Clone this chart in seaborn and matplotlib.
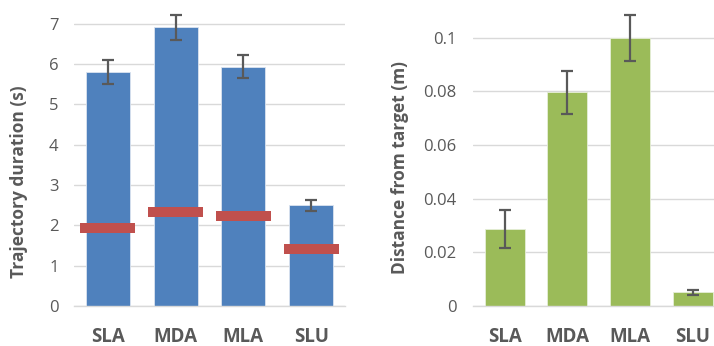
import seaborn as sns
import pandas as pd
import numpy as np
import matplotlib.pyplot as plt

# data
conditions = ["SLA", "MDA", "MLA", "SLU"]
duration = [5.80, 6.92, 5.94, 2.50]
duration_err = [0.30, 0.31, 0.28, 0.14]
duration_ref = [1.93, 2.34, 2.23, 1.41]
distance = [0.0287, 0.0796, 0.1000, 0.0051]
distance_err = [0.0071, 0.0080, 0.0085, 0.0009]

blue = "#4F81BD"
red = "#C0504D"
green = "#9BBB59"
grey = "#595959"
grid = "#D9D9D9"

sns.set_theme(style="white", rc={"axes.edgecolor": grid})
plt.rcParams["font.family"] = ["Open Sans", "DejaVu Sans"]

df = pd.DataFrame({"cond": conditions, "duration": duration, "distance": distance})

fig = plt.figure(figsize=(7.14, 3.46), dpi=100)
ax1 = fig.add_axes([0.1036, 0.1156, 0.3796, 0.8736])
ax2 = fig.add_axes([0.663, 0.1156, 0.337, 0.8685])

# left panel
sns.barplot(data=df, x="cond", y="duration", color=blue, width=0.65, saturation=1,
            edgecolor="#dbe4f0", linewidth=0.6, ax=ax1, zorder=2)
pos = np.arange(len(conditions))
ax1.errorbar(pos, duration, yerr=duration_err, fmt="none", ecolor=grey,
             elinewidth=1.6, capsize=4, capthick=1.6, zorder=3)
ax1.bar(pos, [0.25] * len(pos), bottom=np.array(duration_ref) - 0.125, width=0.81,
        color=red, edgecolor=red, linewidth=0, zorder=4)
ax1.set_ylim(0, 7.5)
ax1.set_xlim(-0.5, 3.5)
ax1.set_yticks(range(0, 8))
ax1.set_ylabel("Trajectory duration (s)", fontsize=12.5, fontweight="bold", color=grey)
ax1.yaxis.set_label_coords(-0.17, 0.41)

# right panel
sns.barplot(data=df, x="cond", y="distance", color=green, width=0.64, saturation=1,
            edgecolor="#e6eed8", linewidth=0.6, ax=ax2, zorder=2)
ax2.errorbar(pos, distance, yerr=distance_err, fmt="none", ecolor=grey,
             elinewidth=1.6, capsize=4, capthick=1.6, zorder=3)
ax2.set_ylim(0, 0.112)
ax2.set_xlim(-0.5, 3.34)
ax2.set_yticks([0, 0.02, 0.04, 0.06, 0.08, 0.1])
ax2.set_yticklabels(["0", "0.02", "0.04", "0.06", "0.08", "0.1"])
ax2.set_ylabel("Distance from target (m)", fontsize=12.5, fontweight="bold", color=grey)
ax2.yaxis.set_label_coords(-0.266, 0.46)

for ax in (ax1, ax2):
    ax.set_xlabel(None)
    ax.yaxis.grid(True, color=grid, lw=1, zorder=0)
    ax.set_axisbelow(True)
    sns.despine(ax=ax, left=True, top=True, right=True)
    ax.spines["bottom"].set_color(grid)
    ax.spines["bottom"].set_linewidth(1)
    ax.tick_params(axis="y", length=0, labelsize=12, colors=grey, pad=11)
    ax.tick_params(axis="x", length=0, labelsize=13.5, colors=grey, pad=15)
    for t in ax.get_xticklabels():
        t.set_fontweight("bold")
ax2.tick_params(axis="y", pad=12)

plt.savefig("out.png", dpi=100)
